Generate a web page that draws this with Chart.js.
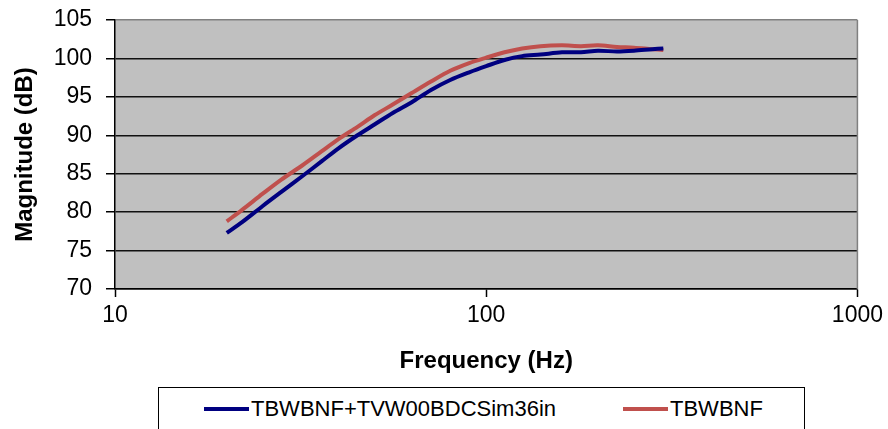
<!DOCTYPE html>
<html>
<head>
<meta charset="utf-8">
<script src="https://cdn.jsdelivr.net/npm/chart.js@4/dist/chart.umd.min.js"></script>
<style>
  body { margin: 0; background: #fff; }
  #wrap { position: relative; width: 888px; height: 429px; overflow: hidden; }
  #legend {
    position: absolute; left: 158px; top: 387px; width: 647px; height: 60px;
    border: 1px solid #000; background: #fff; box-sizing: border-box;
    font-family: "Liberation Sans Narrow", "Arial Narrow", "Liberation Sans", Arial, sans-serif;
    font-size: 22px; color: #000;
  }
  .item { position: absolute; top: 8px; display: flex; align-items: center; white-space: nowrap; }
  .swatch { display: inline-block; width: 45px; height: 4px; margin-right: 2px; }
</style>
</head>
<body>
<div id="wrap">
  <canvas id="chart" width="888" height="429"></canvas>
  <div id="legend"></div>
</div>
<script>
// ===== DATA =====
const freqs = [20, 22, 25, 28, 32, 36, 40, 45, 50, 56, 63, 71, 80, 90, 100, 112, 125, 140, 160, 180, 200, 225, 250, 280, 300];
const simValues = [77.3, 78.7, 80.8, 82.6, 84.7, 86.6, 88.3, 90.0, 91.4, 92.9, 94.3, 95.9, 97.2, 98.2, 99.0, 99.8, 100.3, 100.5, 100.8, 100.8, 101.0, 100.9, 101.0, 101.2, 101.3];
const tbValues = [78.8, 80.3, 82.4, 84.2, 86.1, 87.9, 89.5, 91.1, 92.6, 94.0, 95.5, 97.0, 98.4, 99.4, 100.1, 100.8, 101.3, 101.6, 101.7, 101.6, 101.7, 101.5, 101.4, 101.2, 101.1];
const seriesNames = ['TBWBNF+TVW00BDCSim36in', 'TBWBNF'];
const xTicks = [10, 100, 1000];
const yTicks = [70, 75, 80, 85, 90, 95, 100, 105];

const colors = ['#000080', '#C0504D'];

// grey plot area + right border
const plotBg = {
    id: 'plotBg',
    beforeDraw(chart) {
        const { ctx, chartArea: a } = chart;
        ctx.save();
        ctx.fillStyle = '#C0C0C0';
        ctx.fillRect(a.left, a.top, a.right - a.left, a.bottom - a.top);
        ctx.restore();
    },
    beforeDatasetsDraw(chart) {
        const { ctx, chartArea: a } = chart;
        ctx.save();
        ctx.strokeStyle = '#808080';
        ctx.lineWidth = 1.5;
        ctx.beginPath();
        ctx.moveTo(a.right, a.top);
        ctx.lineTo(a.right, a.bottom);
        ctx.stroke();
        ctx.restore();
    }
};

const font = 'Liberation Sans, Arial, sans-serif';

const chart = new Chart(document.getElementById('chart'), {
    type: 'line',
    data: {
        datasets: [simValues, tbValues].map((vals, i) => ({
            label: seriesNames[i],
            data: freqs.map((f, j) => ({ x: f, y: vals[j] })),
            borderColor: colors[i],
            borderWidth: 4,
            pointRadius: 0,
            tension: 0.3,
            fill: false
        }))
    },
    options: {
        responsive: false,
        animation: false,
        layout: { padding: { left: 0, top: 20, right: 30, bottom: 40 } },
        plugins: { legend: { display: false }, tooltip: { enabled: false } },
        scales: {
            x: {
                type: 'logarithmic',
                min: 10,
                max: 1000,
                afterBuildTicks: s => { s.ticks = xTicks.map(v => ({ value: v })); },
                afterFit: s => { s.height = 100; },
                ticks: {
                    color: '#000',
                    padding: 5,
                    maxRotation: 0,
                    font: { family: font, size: 23 },
                    callback: v => String(v)
                },
                grid: { drawOnChartArea: false, drawTicks: true, tickLength: 8, tickColor: '#000', tickWidth: 1.5 },
                border: { color: '#000', width: 1.5 },
                title: {
                    display: true,
                    text: 'Frequency (Hz)',
                    color: '#000',
                    font: { family: font, size: 24, weight: 'bold' },
                    padding: { top: 0, bottom: 13 }
                }
            },
            y: {
                min: 70,
                max: 105,
                afterBuildTicks: s => { s.ticks = yTicks.map(v => ({ value: v })); },
                afterFit: s => { s.width = 115; s.paddingTop = 0; s.paddingBottom = 0; },
                ticks: {
                    color: '#000',
                    padding: 14,
                    font: { family: font, size: 23 }
                },
                grid: {
                    color: c => (c.tick && c.tick.value === 105 ? '#808080' : '#111'),
                    lineWidth: 1.5,
                    tickLength: 9,
                    tickColor: '#000',
                    tickWidth: 1.5
                },
                border: { color: '#000', width: 1.5 },
                title: {
                    display: true,
                    text: 'Magnitude (dB)',
                    color: '#000',
                    font: { family: font, size: 24, weight: 'bold' },
                    padding: { top: 11, bottom: 0 }
                }
            }
        }
    },
    plugins: [plotBg]
});

// ===== LEGEND =====
const legendPos = [45, 464];
const legend = document.getElementById('legend');
chart.data.datasets.forEach((ds, i) => {
    const item = document.createElement('div');
    item.className = 'item';
    item.style.left = legendPos[i] + 'px';
    item.innerHTML = `<span class="swatch" style="background:${ds.borderColor}"></span><span>${ds.label}</span>`;
    legend.appendChild(item);
});
</script>
</body>
</html>
